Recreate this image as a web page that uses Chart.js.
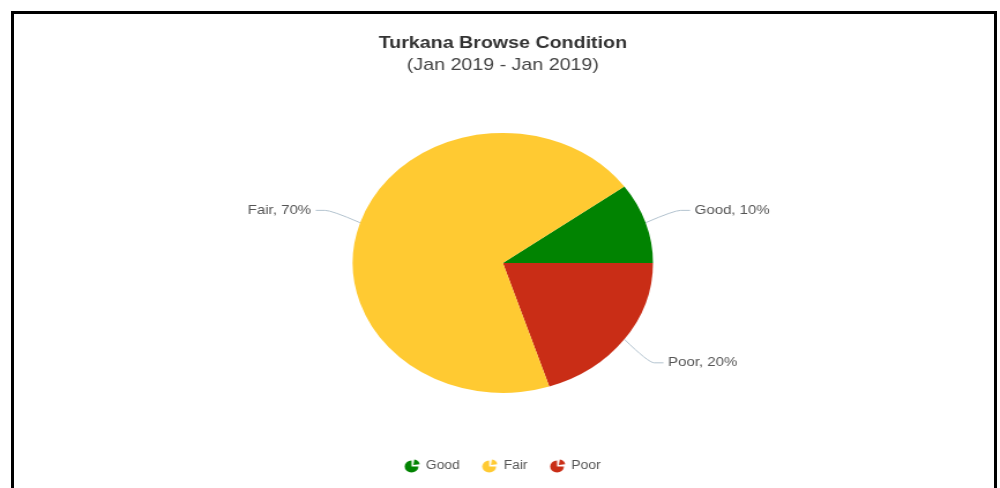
<!DOCTYPE html>
<html>
<head>
<meta charset="utf-8">
<script src="https://cdn.jsdelivr.net/npm/chart.js@4.4.1/dist/chart.umd.min.js"></script>
<style>
  html, body { margin: 0; padding: 0; background: #fff; }
  body { width: 1000px; height: 488px; position: relative; overflow: hidden; }
  #wrap { position: absolute; left: 0; top: 0; width: 866px; height: 488px;
          transform: scaleX(1.1547); transform-origin: 0 0; }
  #frame { position: absolute; left: 11px; top: 11px; width: 980px; height: 500px;
           border: 3px solid #000; pointer-events: none; }
</style>
</head>
<body>
<div id="wrap"><canvas id="c" width="866" height="488"></canvas></div>
<div id="frame"></div>
<script>
// Browse condition shares, drawn clockwise from the upper right
const categories = ['Good', 'Poor', 'Fair'];
const shares = [10, 20, 70];
const colors = ['#018301', '#c92d16', '#ffca32'];
const legendOrder = ['Good', 'Fair', 'Poor'];
const titleText = 'Turkana Browse Condition';
const subtitleText = '(Jan 2019 - Jan 2019)';

const FONT = "'Liberation Sans', Arial, Helvetica, sans-serif";

// small pie glyph used as the legend marker
function pieIcon(color) {
  const s = 14, c = document.createElement('canvas');
  c.width = s; c.height = s;
  const g = c.getContext('2d');
  const cx = 6.5, cy = 7.5, r = 6;
  g.fillStyle = color;
  g.beginPath();
  g.moveTo(cx, cy);
  g.arc(cx, cy, r, 0, Math.PI * 1.5);
  g.closePath();
  g.fill();
  g.beginPath();
  g.moveTo(cx + 1.5, cy - 1.5);
  g.arc(cx + 1.5, cy - 1.5, r - 0.5, -Math.PI * 0.45, -Math.PI * 0.05);
  g.closePath();
  g.fill();
  return c;
}
const icons = colors.map(pieIcon);

// outside labels with soft connectors
const outsideLabels = {
  id: 'outsideLabels',
  afterDatasetsDraw(chart) {
    const ctx = chart.ctx;
    const meta = chart.getDatasetMeta(0);
    ctx.save();
    ctx.font = '13px ' + FONT;
    ctx.textBaseline = 'middle';
    meta.data.forEach((arc, i) => {
      const mid = (arc.startAngle + arc.endAngle) / 2;
      const cos = Math.cos(mid), sin = Math.sin(mid);
      const r = arc.outerRadius;
      const right = cos >= 0;
      const ex = arc.x + cos * r, ey = arc.y + sin * r;
      const bx = arc.x + cos * (r + 32), by = arc.y + sin * (r + 40);
      const hx = bx + (right ? 8 : -8);
      ctx.strokeStyle = '#b3c3cf';
      ctx.lineWidth = 1;
      ctx.beginPath();
      ctx.moveTo(ex, ey);
      ctx.quadraticCurveTo(arc.x + cos * (r + 26), by, bx, by);
      ctx.lineTo(hx, by);
      ctx.stroke();
      ctx.fillStyle = '#555555';
      ctx.textAlign = right ? 'left' : 'right';
      const txt = chart.data.labels[i] + ', ' + shares[i] + '%';
      ctx.fillText(txt, hx + (right ? 4 : -4), by);
    });
    ctx.restore();
  }
};

new Chart(document.getElementById('c'), {
  type: 'pie',
  data: {
    labels: categories,
    datasets: [{
      data: shares,
      backgroundColor: colors,
      borderWidth: 0,
      hoverOffset: 0
    }]
  },
  options: {
    responsive: false,
    animation: false,
    devicePixelRatio: 1,
    rotation: 54,
    radius: 130,
    layout: { padding: { left: 5, right: 0, top: 0, bottom: 6 } },
    plugins: {
      title: {
        display: true,
        text: titleText,
        color: '#333333',
        font: { family: FONT, size: 17, weight: 'bold' },
        padding: { top: 33, bottom: 0 }
      },
      subtitle: {
        display: true,
        text: subtitleText,
        color: '#444444',
        font: { family: FONT, size: 17 },
        padding: { top: 2, bottom: 10 }
      },
      legend: {
        position: 'bottom',
        labels: {
          usePointStyle: true,
          boxWidth: 12,
          padding: 20,
          color: '#555555',
          font: { family: FONT, size: 12 },
          generateLabels(chart) {
            const base = Chart.overrides.pie.plugins.legend.labels.generateLabels(chart);
            return base.map(l => Object.assign(l, { pointStyle: icons[l.index], lineWidth: 0 }));
          },
          sort: (a, b) => legendOrder.indexOf(a.text) - legendOrder.indexOf(b.text)
        }
      },
      tooltip: { enabled: false }
    }
  },
  plugins: [outsideLabels]
});
</script>
</body>
</html>
